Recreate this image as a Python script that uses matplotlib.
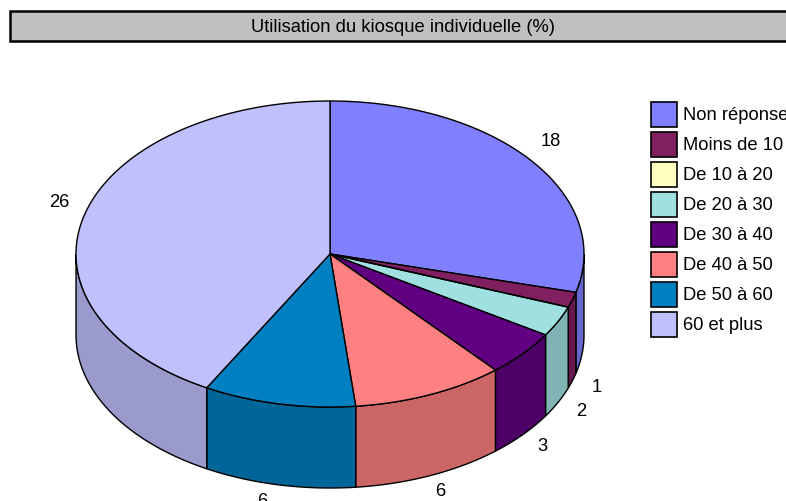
import numpy as np
import matplotlib.pyplot as plt
from matplotlib.patches import Polygon, Rectangle
from matplotlib.colors import to_rgb

plt.rcParams['font.family'] = ['Liberation Sans', 'DejaVu Sans']

# data
categories = ['Non réponse', 'Moins de 10', 'De 10 à 20', 'De 20 à 30',
              'De 30 à 40', 'De 40 à 50', 'De 50 à 60', '60 et plus']
values = [18, 1, 0, 2, 3, 6, 6, 26]
colors = ['#8080FF', '#802060', '#FFFFC0', '#A0E0E0',
          '#600080', '#FF8080', '#0080C0', '#C0C0FF']
title = 'Utilisation du kiosque individuelle (%)'

# layout (pixels)
W, H = 786, 502
cx, cy = 330, 255
rx, ry = 254, 153
depth = 81
fs = 13.2


def ell(theta, dz=0):
    # point on the top ellipse (or shifted down by dz for the bottom rim)
    return cx + rx * np.cos(theta), cy - ry * np.sin(theta) + dz


def darker(c, f=0.8):
    return tuple(v * f for v in to_rgb(c))


fig = plt.figure(figsize=(W / 100, H / 100), dpi=100)
ax = fig.add_axes([0, 0, 1, 1])
ax.set_xlim(0, W)
ax.set_ylim(H, 0)
ax.axis('off')

# title box
ax.add_patch(Rectangle((10, 12), W, 30, facecolor='#C0C0C0',
                       edgecolor='black', lw=1.8, zorder=5))
ax.text(403, 27, title, ha='center', va='center', fontsize=fs, zorder=6)

# slices go clockwise from 12 o'clock
total = sum(values)
angles = np.radians(90 - 360 * np.cumsum([0] + values) / total)
start = angles[:-1]
end = angles[1:]

# side walls, only the front half of the cylinder is visible
for a, b, c in zip(start, end, colors):
    lo, hi = max(b, -np.pi), min(a, 0)
    if hi <= lo:
        continue
    t = np.linspace(hi, lo, 60)
    xt, yt = ell(t)
    xb, yb = ell(t[::-1], depth)
    pts = np.column_stack([np.r_[xt, xb], np.r_[yt, yb]])
    ax.add_patch(Polygon(pts, closed=True, facecolor=darker(c),
                         edgecolor='black', lw=1.0, zorder=2))

# top faces
for a, b, c in zip(start, end, colors):
    if a == b:
        # zero slice still shows as a single edge
        x0, y0 = ell(a)
        ax.plot([cx, x0], [cy, y0], color='black', lw=1.0, zorder=4)
        continue
    t = np.linspace(a, b, 120)
    xt, yt = ell(t)
    pts = np.column_stack([np.r_[cx, xt], np.r_[cy, yt]])
    ax.add_patch(Polygon(pts, closed=True, facecolor=c,
                         edgecolor='black', lw=1.0, zorder=3))

# value labels
for a, b, v in zip(start, end, values):
    if v == 0:
        continue
    m = (a + b) / 2
    x, y = ell(m)
    lx = cx + (x - cx) * 1.1
    ly = cy + (y - cy) * 1.1
    if np.sin(m) < 0:
        ly += depth + 1
        if np.cos(m) < 0:
            lx -= 12
    else:
        ly -= 10
    ax.text(lx, ly, str(v), ha='center', va='center', fontsize=fs)

# legend
for i, (name, c) in enumerate(zip(categories, colors)):
    y0 = 103 + 30 * i
    ax.add_patch(Rectangle((651, y0), 26, 25, facecolor=c,
                           edgecolor='black', lw=1.2, zorder=5))
    ax.text(683, y0 + 13, name, ha='left', va='center', fontsize=fs)

fig.savefig('out.png', dpi=100)
